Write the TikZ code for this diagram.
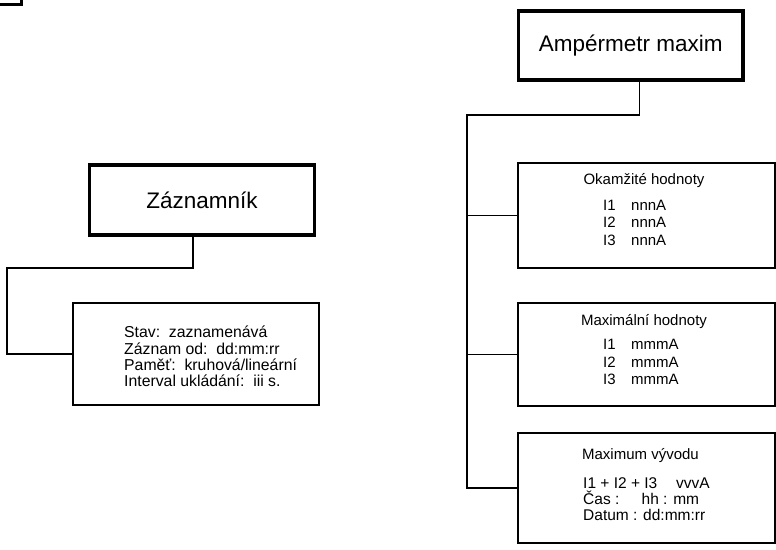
\documentclass[tikz,border=0pt]{standalone}
\usepackage{fontspec}
\setmainfont{Liberation Sans}
\begin{document}
\begin{tikzpicture}[x=1pt,y=-1pt,
  titlebox/.style={draw, line width=3.8pt, inner sep=0pt, font=\fontsize{22.5}{26}\selectfont},
  infobox/.style={draw, line width=1.3pt, inner sep=0pt},
  conn/.style={line width=1.3pt},
  ltxt/.style={inner sep=0pt, anchor=west, align=left, font=\fontsize{15.8}{16.3}\selectfont},
  rtitle/.style={inner sep=0pt, font=\fontsize{15}{17.5}\selectfont},
  rtxt/.style={inner sep=0pt, anchor=west, align=left, font=\fontsize{15}{17.5}\selectfont}]
\useasboundingbox (0,0) rectangle (776,549);

% fragment at top-left corner
\draw[line width=3.8pt] (-5,4.5) -- (21.5,4.5) -- (21.5,-5);

% left tree
\node[titlebox, minimum width=225pt, minimum height=70pt] (zaz) at (202,200) {Záznamník};
\node[infobox, minimum width=246pt, minimum height=102pt] (det) at (196,354) {};
\node[ltxt] (dett) at (124,356.6) {Stav:\ \ zaznamenává\\Záznam od:\ \ dd:mm:rr\\Paměť:\ \ kruhová/lineární\\Interval ukládání:\ \ iii s.};
\coordinate (lk) at (7,268);
\draw[conn] ([xshift=-9pt]zaz.south) |- (lk) |- (det.west);

% right tree
\node[titlebox, minimum width=224.5pt, minimum height=69pt] (amp) at (630.75,45.5) {Ampérmetr maxim};
\node[infobox, minimum width=257pt, minimum height=105pt] (b1) at (646.5,215.5) {};
\node[infobox, minimum width=257pt, minimum height=103pt] (b2) at (646.5,354.5) {};
\node[infobox, minimum width=257pt, minimum height=110pt] (b3) at (646.5,488) {};

\node[rtitle] (t1) at (644,181) {Okamžité hodnoty};
\node[rtxt] (l1) at (603,222.5) {\makebox[28pt][l]{I1}nnnA\\\makebox[28pt][l]{I2}nnnA\\\makebox[28pt][l]{I3}nnnA};
\node[rtitle] (t2) at (644,322) {Maximální hodnoty};
\node[rtxt] (l2) at (603,362.3) {\makebox[28pt][l]{I1}mmmA\\\makebox[28pt][l]{I2}mmmA\\\makebox[28pt][l]{I3}mmmA};
\node[rtitle] (t3) at (640.5,455.5) {Maximum vývodu};
\node[rtxt, font=\fontsize{15.5}{16.3}\selectfont] (l3) at (583,499) {\makebox[93pt][l]{I1 + I2 + I3}vvvA\\\makebox[58.5pt][l]{Čas :}hh : mm\\Datum : dd:mm:rr};

\coordinate (rk) at (467,115);
\draw[conn] ([xshift=8.5pt]amp.south) |- (rk) |- (b3.west);
\draw[conn] (b1.west) -- (b1.west -| rk);
\draw[conn] (b2.west) -- (b2.west -| rk);
\end{tikzpicture}
\end{document}
